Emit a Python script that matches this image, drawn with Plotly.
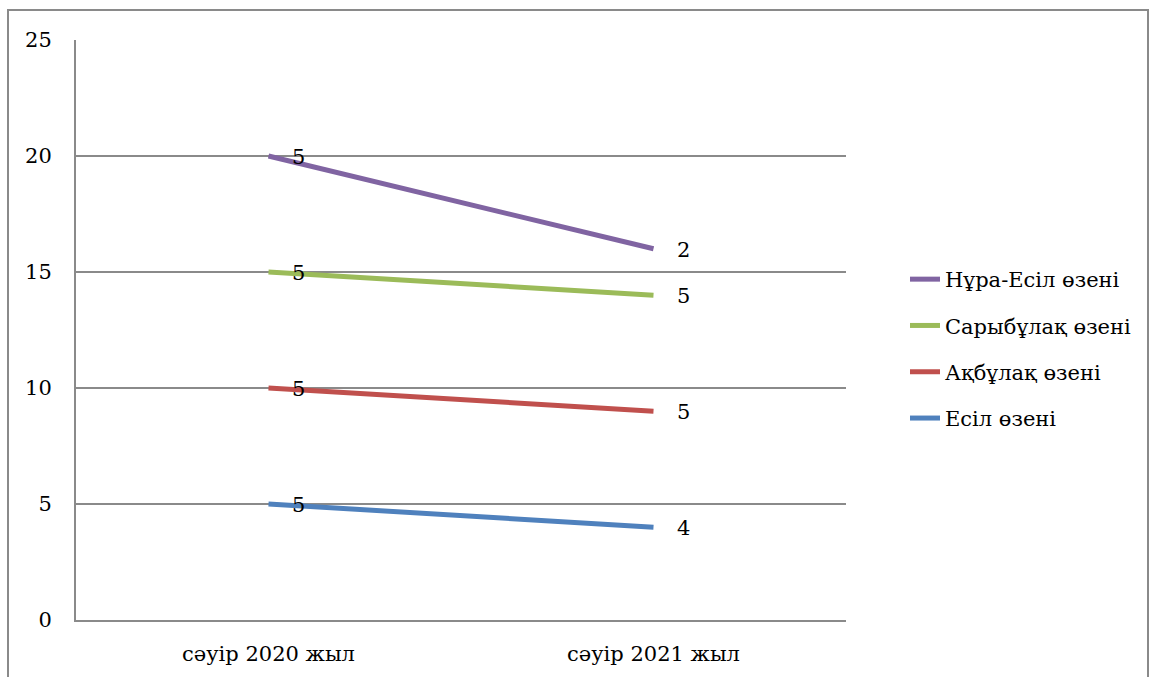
import numpy as np
import plotly.graph_objects as go

categories = ["сәуір 2020 жыл", "сәуір 2021 жыл"]
series_names = ["Есіл өзені", "Ақбұлақ өзені", "Сарыбұлақ өзені", "Нұра-Есіл өзені"]
esil = [5, 4]
akbulak = [5, 5]
sarybulak = [5, 5]
nura_esil = [5, 2]
colors = ["#4F81BD", "#C0504D", "#9BBB59", "#8064A2"]
y_ticks = [0, 5, 10, 15, 20, 25]

series_values = [esil, akbulak, sarybulak, nura_esil]
FONT = "DejaVu Serif"
FS = 21

fig = go.Figure()
n = len(series_names)
for i, (name, vals, col) in enumerate(zip(series_names, series_values, colors)):
    fig.add_trace(go.Scatter(
        x=categories, y=vals, name=name, mode="lines",
        stackgroup="one", fill="none", legendgroup=name,
        legendrank=n - i,
        line=dict(color=col, width=5),
    ))

cum = np.cumsum(np.array(series_values), axis=0)
for i, vals in enumerate(series_values):
    for j, cat in enumerate(categories):
        fig.add_annotation(
            x=cat, y=float(cum[i][j]), text=str(vals[j]), showarrow=False,
            xanchor="left", yanchor="middle", xshift=21, yshift=-1,
            font=dict(family=FONT, size=FS, color="#000000"),
        )

# outer chart border
fig.add_shape(type="rect", xref="paper", yref="paper",
              x0=(8 - 76) / 770, x1=(1148 - 76) / 770,
              y0=-0.2, y1=(620 - 10) / 580,
              line=dict(color="#8a8a8a", width=2), layer="below")

fig.update_layout(
    width=1149, height=677,
    margin=dict(l=76, r=303, t=40, b=57, autoexpand=False),
    paper_bgcolor="white", plot_bgcolor="white",
    font=dict(family=FONT, size=FS, color="#000000"),
    showlegend=True,
    legend=dict(
        x=(905 - 76) / 770, y=(620 - 349) / 580, xanchor="left", yanchor="middle",
        traceorder="grouped", tracegroupgap=16,
        font=dict(family=FONT, size=FS, color="#000000"),
        bgcolor="rgba(0,0,0,0)",
    ),
    xaxis=dict(
        type="category", range=[-0.5, 1.5], showgrid=False,
        showline=True, linecolor="#8a8a8a", linewidth=2,
        ticks="", ticklabelstandoff=14, zeroline=False, automargin=False,
        tickfont=dict(family=FONT, size=FS),
    ),
    yaxis=dict(
        range=[0, 25], tickvals=y_ticks, showgrid=True,
        gridcolor="#8a8a8a", gridwidth=1.5,
        showline=True, linecolor="#8a8a8a", linewidth=2,
        ticks="", ticklabelstandoff=18, zeroline=False, automargin=False,
        tickfont=dict(family=FONT, size=FS),
    ),
)

fig.write_html("out.html")
